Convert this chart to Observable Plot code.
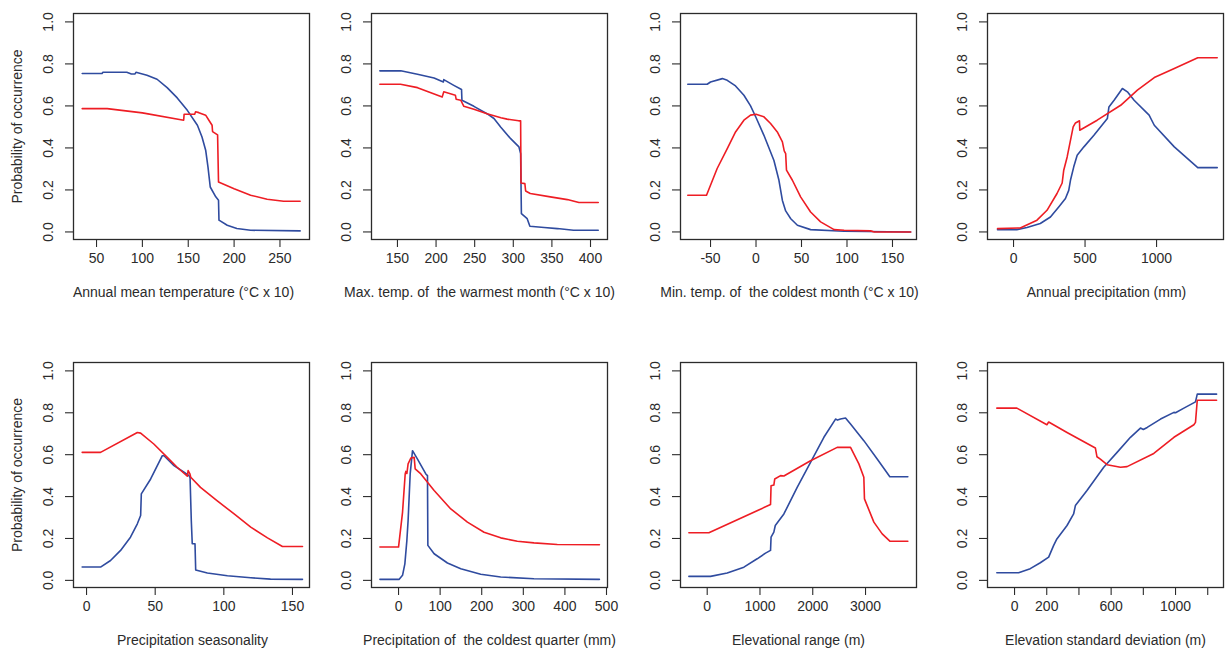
<!DOCTYPE html>
<html><head><meta charset="utf-8">
<script src="https://cdn.jsdelivr.net/npm/d3@7"></script>
<script src="https://cdn.jsdelivr.net/npm/@observablehq/plot@0.6"></script>
<style>
body{margin:0;background:#fff;}
#wrap{position:relative;width:1225px;height:650px;overflow:hidden;}
.panel{position:absolute;}
svg text{white-space:pre;}
</style></head><body><div id="wrap"></div>
<script>
// ---------- data ----------
const yLabel = "Probability of occurrence";
const yTicks = [0, 0.2, 0.4, 0.6, 0.8, 1.0];
const titles = [
  "Annual mean temperature (°C x 10)",
  "Max. temp. of  the warmest month (°C x 10)",
  "Min. temp. of  the coldest month (°C x 10)",
  "Annual precipitation (mm)",
  "Precipitation seasonality",
  "Precipitation of  the coldest quarter (mm)",
  "Elevational range (m)",
  "Elevation standard deviation (m)"
];
const xTicks1 = [50, 100, 150, 200, 250];
const xTicks2 = [150, 200, 250, 300, 350, 400];
const xTicks3 = [-50, 0, 50, 100, 150];
const xTicks4 = [0, 500, 1000];
const xTicks5 = [0, 50, 100, 150];
const xTicks6 = [0, 100, 200, 300, 400, 500];
const xTicks7 = [0, 1000, 2000, 3000];
const xTicks8 = [0, 200, 400, 600, 800, 1000, 1200];
const xTickLabels8 = ["0", "200", "", "600", "", "1000", ""];

const blue1 = [[34.4,0.754],[56,0.754],[57,0.76],[83,0.76],[88,0.752],[92,0.752],[93,0.76],[105,0.746],[116,0.727],[127,0.687],[138,0.638],[149,0.579],[160,0.508],[165,0.452],[169,0.389],[171.5,0.31],[174,0.214],[180,0.167],[183,0.151],[183.5,0.056],[192.5,0.032],[203,0.016],[218,0.008],[272,0.005]];
const red1 = [[34.4,0.587],[61.6,0.587],[100,0.567],[145,0.532],[145.5,0.56],[157,0.56],[158,0.572],[161.6,0.568],[169,0.556],[172.5,0.532],[176,0.508],[176.5,0.478],[182,0.462],[183,0.238],[200,0.206],[218,0.175],[236,0.156],[254,0.146],[272,0.146]];

const blue2 = [[127.2,0.767],[154.3,0.767],[175.9,0.751],[197.4,0.733],[209.5,0.714],[210,0.725],[223,0.698],[233,0.678],[233.5,0.627],[249,0.598],[266,0.563],[275,0.54],[283.6,0.5],[296.6,0.444],[307.3,0.405],[309.5,0.373],[310.5,0.087],[318,0.063],[321.5,0.027],[340,0.021],[357,0.016],[378,0.008],[410,0.008]];
const red2 = [[127.2,0.703],[154,0.703],[176,0.687],[208,0.643],[210,0.667],[225,0.651],[226,0.632],[232,0.627],[236,0.598],[249,0.584],[266,0.563],[284,0.544],[292,0.537],[307,0.529],[309.5,0.529],[310,0.233],[315,0.23],[316,0.195],[322,0.183],[348,0.167],[370,0.154],[385,0.14],[410,0.14]];

const blue3 = [[-75,0.703],[-53.7,0.703],[-50,0.714],[-37,0.73],[-31.6,0.722],[-22.5,0.695],[-13.3,0.651],[-6,0.6],[0,0.545],[8.7,0.46],[12.4,0.42],[19.7,0.34],[25.2,0.246],[29,0.15],[32.6,0.1],[38.2,0.063],[45.5,0.032],[60,0.011],[96.8,0.003],[170,0.0]];
const red3 = [[-75,0.175],[-54.4,0.175],[-42.7,0.302],[-31.6,0.397],[-22.5,0.476],[-13.3,0.532],[-6,0.556],[0,0.56],[8.7,0.548],[16,0.516],[23.4,0.476],[29,0.429],[31,0.386],[32.6,0.373],[33.5,0.294],[40,0.246],[49,0.167],[60,0.095],[71,0.048],[85.8,0.011],[96.8,0.008],[126,0.005],[130,0.0],[170,0.0]];

const blue4 = [[-112,0.011],[23,0.011],[94,0.021],[187,0.04],[258,0.071],[316,0.119],[363,0.159],[386,0.198],[398,0.246],[421,0.31],[445,0.365],[492,0.405],[562,0.46],[656,0.54],[667,0.595],[703,0.627],[761,0.683],[796,0.667],[843,0.627],[948,0.556],[984,0.508],[1124,0.405],[1288,0.306],[1424,0.306]];
const red4 = [[-112,0.016],[47,0.019],[164,0.056],[234,0.103],[304,0.183],[340,0.233],[351,0.294],[375,0.357],[417,0.5],[433,0.519],[461,0.529],[463,0.484],[585,0.532],[749,0.603],[866,0.675],[984,0.735],[1124,0.778],[1288,0.829],[1424,0.829]];

const blue5 = [[-3.2,0.0635],[10.2,0.0635],[17.5,0.095],[24.8,0.143],[32,0.206],[37,0.27],[39.4,0.31],[39.9,0.413],[46.7,0.484],[55.2,0.595],[56.4,0.595],[63.7,0.548],[71,0.516],[74.6,0.5],[75.4,0.49],[76.3,0.286],[77,0.175],[79,0.175],[79.5,0.05],[88,0.035],[102.6,0.022],[119.6,0.0127],[134,0.006],[157.3,0.005]];
const red5 = [[-3.2,0.611],[10.2,0.611],[37,0.706],[39.4,0.703],[49,0.651],[58.8,0.587],[66,0.54],[73.4,0.497],[74,0.524],[75.2,0.51],[75.9,0.492],[83,0.444],[95,0.381],[107.5,0.317],[119.6,0.254],[131.8,0.203],[142.7,0.162],[157.3,0.162]];

const blue6 = [[-44.8,0.005],[1.6,0.005],[9.6,0.024],[15.2,0.079],[20,0.19],[23,0.286],[28,0.508],[33.6,0.619],[45.6,0.579],[65.6,0.508],[69.6,0.5],[70.5,0.167],[85.6,0.127],[117.6,0.083],[149.6,0.056],[197.6,0.029],[245.6,0.016],[325.6,0.008],[483,0.005]];
const red6 = [[-44.8,0.159],[0,0.159],[9.6,0.325],[16,0.508],[17.6,0.52],[20,0.51],[23,0.556],[29.6,0.584],[37.6,0.587],[40,0.532],[53.6,0.508],[85.6,0.429],[125.6,0.341],[165.6,0.278],[205.6,0.23],[245.6,0.203],[285.6,0.187],[325.6,0.179],[381.6,0.171],[483,0.17]];

const blue7 = [[-347,0.019],[63,0.019],[379,0.035],[695,0.063],[947,0.103],[1105,0.13],[1200,0.143],[1210,0.206],[1263,0.23],[1290,0.262],[1453,0.317],[1705,0.444],[1958,0.563],[2211,0.683],[2432,0.77],[2470,0.765],[2526,0.77],[2621,0.775],[2716,0.746],[2968,0.667],[3221,0.579],[3461,0.495],[3802,0.495]];
const red7 = [[-347,0.227],[32,0.227],[1200,0.362],[1210,0.452],[1263,0.455],[1280,0.484],[1390,0.5],[1453,0.498],[1958,0.571],[2463,0.635],[2716,0.635],[2874,0.556],[2968,0.492],[2980,0.389],[3158,0.278],[3316,0.222],[3461,0.187],[3802,0.187]];

const blue8 = [[-110,0.0365],[25,0.0365],[97.5,0.056],[160,0.084],[212,0.111],[243,0.167],[263,0.198],[326,0.262],[367,0.317],[378,0.357],[450,0.429],[554,0.54],[637,0.611],[720,0.683],[782,0.727],[800,0.72],[824,0.73],[907,0.77],[990,0.802],[1000,0.8],[1052,0.822],[1124,0.852],[1135,0.889],[1255,0.889]];
const red8 = [[-110,0.822],[14.5,0.822],[201,0.743],[212,0.756],[326,0.706],[502,0.632],[512,0.59],[533,0.579],[575,0.552],[658,0.54],[699,0.543],[865,0.606],[990,0.683],[1114,0.743],[1124,0.754],[1135,0.86],[1255,0.86]];

// ---------- layout ----------
const BLUE = "#2f4b9f", RED = "#ee1d24", INK = "#2b2b2b", FONT = "'Liberation Sans', Arial, Helvetica, sans-serif";
const frameLefts = [73, 371, 680, 987];
const panels = [
  {title: titles[0], domain: [24.9, 282.2], ticks: xTicks1, blue: blue1, red: red1, tdx: -8},
  {title: titles[1], domain: [116.4, 422], ticks: xTicks2, blue: blue2, red: red2, tdx: -10},
  {title: titles[2], domain: [-83, 176.4], ticks: xTicks3, blue: blue3, red: red3, tdx: -9},
  {title: titles[3], domain: [-182, 1468], ticks: xTicks4, blue: blue4, red: red4, tdx: 1},
  {title: titles[4], domain: [-9.5, 162.4], ticks: xTicks5, blue: blue5, red: red5, tdx: 1},
  {title: titles[5], domain: [-65, 502.4], ticks: xTicks6, blue: blue6, red: red6, tdx: 0},
  {title: titles[6], domain: [-506, 3966], ticks: xTicks7, blue: blue7, red: red7, tdx: 0},
  {title: titles[7], domain: [-168, 1298], ticks: xTicks8, labels: xTickLabels8, blue: blue8, red: red8, tdx: 0}
];

const wrap = document.getElementById("wrap");
panels.forEach((p, i) => {
  const row = Math.floor(i / 4), col = i % 4;
  const mL = 70, mR = 2, mT = 13;
  const mB = row === 0 ? 70 : 63;
  const H = row === 0 ? 309 : 301;
  const W = mL + 236 + mR;
  const fmt = p.labels ? (d => p.labels[p.ticks.indexOf(d)]) : (d => String(d));
  const marks = [
    Plot.axisX({ticks: p.ticks, tickSize: 8, tickPadding: 6, tickFormat: fmt, label: null, stroke: INK, strokeWidth: 1.1, fill: INK, fontSize: 14}),
    Plot.axisY({ticks: yTicks, tickSize: 8, tickPadding: 17, tickRotate: -90, textAnchor: "middle", lineAnchor: "middle", tickFormat: d => d.toFixed(1), label: null, stroke: INK, strokeWidth: 1.1, fill: INK, fontSize: 14}),
    Plot.line(p.blue, {x: d => d[0], y: d => d[1], stroke: BLUE, strokeWidth: 1.6}),
    Plot.line(p.red, {x: d => d[0], y: d => d[1], stroke: RED, strokeWidth: 1.6}),
    Plot.frame({stroke: INK, strokeWidth: 1.3}),
    Plot.text([p.title], {frameAnchor: "bottom", dy: 53, dx: p.tdx, text: d => d, fill: INK, fontSize: 14, lineAnchor: "middle"})
  ];
  if (col === 0) {
    marks.push(Plot.text([yLabel], {frameAnchor: "left", dx: -56, rotate: -90, text: d => d, fill: INK, fontSize: 14, lineAnchor: "middle", textAnchor: "middle"}));
  }
  const chart = Plot.plot({
    width: W, height: H,
    marginLeft: mL, marginRight: mR, marginTop: mT, marginBottom: mB,
    x: {domain: p.domain},
    y: {domain: row === 0 ? [-0.036, 1.04] : [-0.034, 1.04]},
    style: {fontFamily: FONT, fontSize: "14px", color: INK, background: "transparent", overflow: "visible"},
    marks
  });
  chart.classList.add("panel");
  chart.style.left = (frameLefts[col] - mL) + "px";
  chart.style.top = (row === 0 ? 0 : 349) + "px";
  wrap.appendChild(chart);
});
</script>
</body></html>
